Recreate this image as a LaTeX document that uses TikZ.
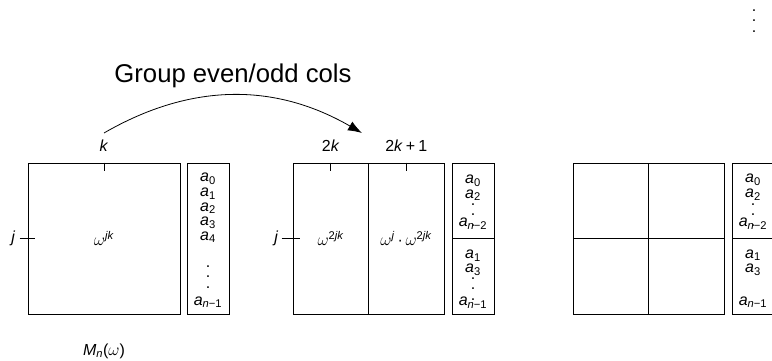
\documentclass[tikz,border=0pt]{standalone}
\usepackage{fontspec}
\setmainfont{Liberation Sans}
\usetikzlibrary{positioning, arrows.meta}

\newcommand\mfont{\fontsize{16}{16}\selectfont}
\newcommand\vdts{\vbox{\baselineskip10.5pt\lineskiplimit0pt\hbox{.}\hbox{.}\hbox{.}}}
\newcommand\asub[1]{\textit{a}\textsubscript{#1}}
\newcommand\om[1]{$\omega$\textsuperscript{#1}}

\begin{document}
\begin{tikzpicture}[x=1pt, y=1pt,
    >={Latex[length=14pt, width=10pt]},
    mat/.style={draw, line width=0.8pt, minimum width=152pt, minimum height=151pt, inner sep=0pt, font=\mfont},
    half/.style={draw, line width=0.8pt, minimum width=75.5pt, minimum height=151pt, inner sep=0pt, font=\mfont},
    quad/.style={draw, line width=0.8pt, minimum width=75.5pt, minimum height=75.5pt, inner sep=0pt},
    vec/.style={draw, line width=0.8pt, minimum width=42pt, minimum height=151pt, inner sep=0pt},
    vhalf/.style={draw, line width=0.8pt, minimum width=42pt, minimum height=75.5pt, inner sep=0pt},
    tick/.style={line width=0.8pt},
    lbl/.style={font=\mfont, inner sep=1pt},
    ent/.style={font=\mfont, inner sep=0pt}]

    \useasboundingbox (0,0) rectangle (772,361);
    \clip (0,0) rectangle (772,361);

    % === left: the full matrix and its vector ===
    \node[mat] (A) at (104,122.5) {\om{\textit{jk}}};
    \node[vec] (VA) at (208,122.5) {};

    \node[ent] (a0) at (208,182) {\asub{0}};
    \node[ent] (a1) at (208,167.5) {\asub{1}};
    \node[ent] (a2) at (208,153) {\asub{2}};
    \node[ent] (a3) at (208,138.5) {\asub{3}};
    \node[ent] (a4) at (208,124) {\asub{4}};
    \node[ent] (dA) at (208,84) {\vdts};
    \node[ent] (an) at (208,59) {\asub{\textit{n}−1}};

    \draw[tick] (A.north) -- ++(0,-8);
    \node[lbl, anchor=base] (k) at ([yshift=11pt]A.north) {\textit{k}};
    \coordinate (jA) at ([xshift=-8pt]A.west);
    \draw[tick] (jA) -- ++(15,0);
    \node[lbl, left=3pt of jA] (j1) {\textit{j}};
    \node[lbl, below=28pt of A.south] (M) {\textit{M}\textsubscript{\textit{n}}($\omega$)};

    % === middle: even / odd columns ===
    \node[half] (B1) at (330.75,122.5) {\om{2\textit{jk}}};
    \node[half] (B2) at (406.25,122.5) {\om{\textit{j}}\,·\,\om{2\textit{jk}}};
    \node[vhalf] (VB1) at (473,160.25) {};
    \node[vhalf] (VB2) at (473,84.75) {};

    \node[ent] (b0) at (473,180) {\asub{0}};
    \node[ent] (b2) at (473,166) {\asub{2}};
    \node[ent] (db1) at (473,146) {\vdts};
    \node[ent] (bn2) at (473,137.5) {\asub{\textit{n}−2}};
    \node[ent] (b1) at (473,105.5) {\asub{1}};
    \node[ent] (b3) at (473,91) {\asub{3}};
    \node[ent] (db2) at (473,72) {\vdts};
    \node[ent] (bn1) at (473,58.5) {\asub{\textit{n}−1}};

    \draw[tick] (B1.north) -- ++(0,-8);
    \draw[tick] (B2.north) -- ++(0,-8);
    \node[lbl, anchor=base] (k2) at ([yshift=11pt]B1.north) {2\textit{k}};
    \node[lbl, anchor=base] (k21) at ([yshift=11pt]B2.north) {2\textit{k}\hspace{3pt}+\hspace{3pt}1};
    \coordinate (jB) at ([xshift=-11pt]B1.west);
    \draw[tick] (jB) -- ++(18,0);
    \node[lbl, left=2pt of jB] (j2) {\textit{j}};

    % === right: four blocks ===
    \node[quad] (C11) at (610.75,160.25) {};
    \node[quad] (C12) at (686.25,160.25) {};
    \node[quad] (C21) at (610.75,84.75) {};
    \node[quad] (C22) at (686.25,84.75) {};
    \node[vhalf] (VC1) at (753,160.25) {};
    \node[vhalf] (VC2) at (753,84.75) {};

    \node[ent] (c0) at (753,181) {\asub{0}};
    \node[ent] (c2) at (753,166.5) {\asub{2}};
    \node[ent] (dc) at (753,146) {\vdts};
    \node[ent] (cn2) at (753,137.5) {\asub{\textit{n}−2}};
    \node[ent] (c1) at (753,106) {\asub{1}};
    \node[ent] (c3) at (753,91.5) {\asub{3}};
    \node[ent] (cn1) at (753,59) {\asub{\textit{n}−1}};

    \node[ent] (dtop) at (754,340) {\vdts};

    % === regrouping arrow ===
    \coordinate (gA) at (104,228);
    \coordinate (gB) at (362,228);
    \draw[->, line width=0.8pt] (gA) to[bend left=30]
        node[above=4pt, font=\fontsize{25.7}{30}\selectfont] (grp) {Group even/odd cols} (gB);

\end{tikzpicture}
\end{document}
